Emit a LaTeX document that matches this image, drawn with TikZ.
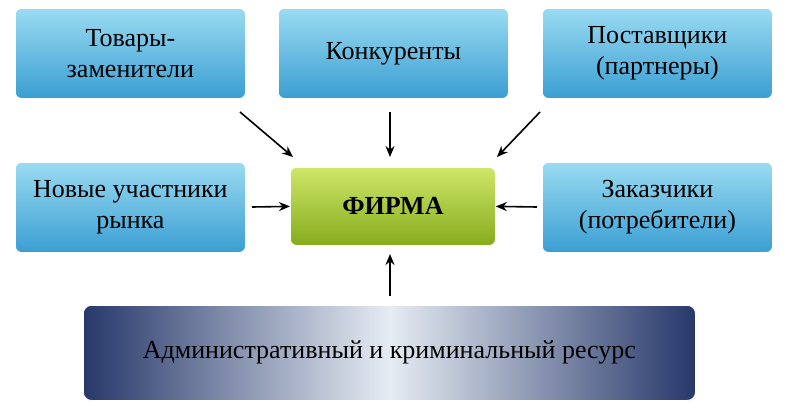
\documentclass[tikz,border=0pt]{standalone}
\usepackage{fontspec}
\setmainfont{Liberation Serif}
\usetikzlibrary{arrows.meta}
\begin{document}
\begin{tikzpicture}[x=1pt,y=-1pt,
  bluebox/.style={rounded corners=6pt,draw=white,line width=0.8pt,top color=bluetop,bottom color=bluebot,minimum width=230pt,minimum height=90pt,align=center,font=\fontsize{26}{31}\selectfont,anchor=north west,inner sep=0pt},
  arr/.style={-{Stealth[length=11pt,width=9pt]},line width=1.6pt}]
\definecolor{bluetop}{HTML}{9ADBF2}
\definecolor{bluebot}{HTML}{3A9ED2}
\definecolor{grtop}{HTML}{CFE66A}
\definecolor{grbot}{HTML}{85AC1C}
\definecolor{navy}{HTML}{27386A}
\definecolor{paleb}{HTML}{E6ECF3}
\useasboundingbox (0,0) rectangle (788,415);
\node[bluebox] (t) at (15,8) {Товары-\\заменители};
\node[bluebox] (k) at (278,8) {Конкуренты};
\node[bluebox] (p) at (542,8) {Поставщики\\(партнеры)};
\node[bluebox] (n) at (15,162) {Новые участники\\рынка};
\node[bluebox] (z) at (542,162) {Заказчики\\(потребители)};
\node[rounded corners=6pt,draw=white,line width=0.8pt,top color=grtop,bottom color=grbot,minimum width=205pt,minimum height=78pt,anchor=north west,font=\fontsize{26}{31}\selectfont\bfseries] (f) at (290,167) {ФИРМА};
\node[rounded corners=8pt,draw=white,line width=0.8pt,left color=navy,right color=navy,middle color=paleb,minimum width=612pt,minimum height=95pt,anchor=north west,font=\fontsize{26}{31}\selectfont] (a) at (83,305) {Административный и криминальный ресурс};
\coordinate (t1) at (240,112); \coordinate (k1) at (390,112); \coordinate (p1) at (540,112);
\coordinate (n1) at (252,207); \coordinate (z1) at (537,207); \coordinate (a1) at (390,296);
\draw[arr] (t1) -- (293,157);
\draw[arr] (k1) -- (390,157);
\draw[arr] (p1) -- (497,157);
\draw[arr] (n1) -- (f.west);
\draw[arr] (z1) -- (f.east);
\draw[arr] (a1) -- (390,254);
\end{tikzpicture}
\end{document}
